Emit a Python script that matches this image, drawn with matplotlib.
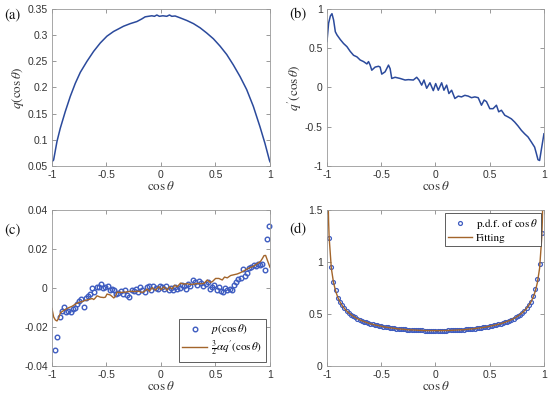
import matplotlib
matplotlib.use('Agg')
import matplotlib.pyplot as plt
from matplotlib.ticker import FuncFormatter
import numpy as np

plt.rcParams['font.family'] = ['Liberation Sans', 'DejaVu Sans']
plt.rcParams['mathtext.fontset'] = 'stix'
plt.rcParams['axes.unicode_minus'] = False

# (a) q(cos theta)
qa_x = [-1.0, -0.985, -0.954, -0.924, -0.878, -0.832, -0.786, -0.74, -0.679, -0.618, -0.557,
        -0.496, -0.435, -0.389, -0.344, -0.282, -0.221, -0.176, -0.145, -0.115, -0.084, -0.06,
        -0.038, -0.015, 0.017, 0.035, 0.053, 0.078, 0.099, 0.13, 0.176, 0.237, 0.298, 0.359,
        0.42, 0.481, 0.542, 0.603, 0.664, 0.725, 0.786, 0.847, 0.908, 0.954, 0.994, 1.0]
qa_y = [0.058, 0.0615, 0.097, 0.122, 0.154, 0.183, 0.208, 0.229, 0.250, 0.269, 0.285,
        0.298, 0.307, 0.312, 0.317, 0.322, 0.326, 0.331, 0.335, 0.336, 0.337, 0.336,
        0.3385, 0.336, 0.337, 0.3365, 0.336, 0.3385, 0.336, 0.3366, 0.333, 0.328, 0.322, 0.314,
        0.304, 0.293, 0.279, 0.263, 0.243, 0.221, 0.196, 0.164, 0.125, 0.093, 0.0615, 0.058]

# (b) q'(cos theta)
qb_x = [-1.0, -0.985, -0.969, -0.954, -0.939, -0.923, -0.908, -0.877, -0.847, -0.816, -0.786,
        -0.755, -0.724, -0.694, -0.663, -0.632, -0.617, -0.602, -0.587, -0.556, -0.525, -0.51,
        -0.495, -0.464, -0.433, -0.418, -0.403, -0.372, -0.326, -0.28, -0.25, -0.204, -0.173,
        -0.152, -0.127, -0.106, -0.081, -0.051, -0.02, 0.002, 0.026, 0.057, 0.078, 0.103,
        0.124, 0.149, 0.179, 0.21, 0.24, 0.271, 0.302, 0.332, 0.363, 0.394, 0.424, 0.449,
        0.47, 0.501, 0.531, 0.562, 0.583, 0.608, 0.639, 0.669, 0.7, 0.73, 0.761, 0.792,
        0.822, 0.853, 0.884, 0.914, 0.93, 0.945, 0.96, 0.975, 1.0]
qb_y = [0.586, 0.82, 0.91, 0.94, 0.86, 0.71, 0.67, 0.61, 0.56, 0.52, 0.46,
        0.41, 0.39, 0.35, 0.33, 0.30, 0.33, 0.285, 0.22, 0.26, 0.27, 0.26,
        0.17, 0.20, 0.285, 0.24, 0.115, 0.13, 0.115, 0.095, 0.10, 0.095, 0.13,
        0.095, 0.03, 0.095, -0.01, 0.06, -0.04, 0.05, -0.035, 0.06, -0.035, 0.03,
        -0.077, -0.035, -0.14, -0.11, -0.12, -0.10, -0.11, -0.13, -0.12, -0.13, -0.226, -0.16,
        -0.18, -0.27, -0.27, -0.226, -0.31, -0.29, -0.354, -0.375, -0.40, -0.44, -0.49, -0.546,
        -0.59, -0.63, -0.695, -0.76, -0.84, -0.92, -0.93, -0.80, -0.59]

# (c) p(cos theta) circles and (3/2) alpha q' line
pc_x = np.linspace(-0.97, 0.99, 99)
pc_y = [-0.032, -0.025, -0.015, -0.012, -0.0095, -0.0125, -0.012, -0.0125, -0.011, -0.0105,
        -0.008, -0.0065, -0.0055, -0.0098, -0.005, -0.004, -0.003, 0.0, -0.002, 0.0005,
        0.0004, 0.0018, 0.0, 0.0005, 0.0012, -0.0012, -0.0004, -0.0008, -0.003, -0.0025,
        -0.0015, -0.003, -0.001, -0.0035, -0.0045, -0.0008, -0.0015, -0.0005, -0.002, 0.0005,
        -0.001, -0.002, 0.0005, 0.001, -0.001, 0.0012, 0.0, -0.0005, 0.001, 0.0005,
        -0.0005, 0.0012, -0.0008, 0.0, -0.001, 0.0005, -0.0005, 0.0, 0.0015, 0.001,
        -0.0005, 0.002, 0.001, 0.004, 0.003, 0.0015, 0.0035, 0.0025, 0.001, 0.002,
        0.003, -0.0005, 0.0005, 0.0015, -0.001, 0.0005, -0.0015, -0.002, 0.0, -0.001,
        -0.0005, -0.001, 0.0015, 0.003, 0.0045, 0.005, 0.0095, 0.006, 0.0075, 0.010,
        0.011, 0.012, 0.0115, 0.0125, 0.012, 0.0125, 0.009, 0.025, 0.032]
lc_y = [-0.0105, -0.0148, -0.0164, -0.0169, -0.0155, -0.0128, -0.0121, -0.0110, -0.0101, -0.0094,
        -0.0083, -0.0074, -0.0070, -0.0063, -0.0059, -0.0054, -0.0059, -0.0051, -0.0040, -0.0047,
        -0.0049, -0.0047, -0.0031, -0.0036, -0.0051, -0.0043, -0.0021, -0.0023, -0.0021, -0.0017,
        -0.0018, -0.0017, -0.0023, -0.0017, -0.0005, -0.0017, 0.0002, -0.0011, 0.0007, -0.0009,
        0.0006, -0.0011, 0.0006, -0.0005, 0.0014, 0.0006, 0.0025, 0.0020, 0.0022, 0.0018,
        0.0020, 0.0023, 0.0022, 0.0023, 0.0041, 0.0029, 0.0032, 0.0049, 0.0049, 0.0041,
        0.0056, 0.0052, 0.0064, 0.0068, 0.0072, 0.0079, 0.0088, 0.0098, 0.0106, 0.0113,
        0.0125, 0.0137, 0.0151, 0.0166, 0.0167, 0.0144, 0.0106]

# (d) p.d.f. of cos theta and fitting
pd_x = np.linspace(-0.98, 0.98, 99)
pd_y = [1.228, 0.956, 0.812, 0.726, 0.655, 0.616, 0.582, 0.554, 0.531, 0.512,
        0.495, 0.480, 0.467, 0.455, 0.445, 0.436, 0.427, 0.420, 0.413, 0.406,
        0.401, 0.395, 0.390, 0.386, 0.382, 0.378, 0.374, 0.371, 0.367, 0.365,
        0.362, 0.359, 0.357, 0.355, 0.353, 0.351, 0.350, 0.348, 0.347, 0.346,
        0.345, 0.344, 0.343, 0.342, 0.341, 0.341, 0.341, 0.340, 0.340, 0.340,
        0.340, 0.340, 0.341, 0.341, 0.341, 0.342, 0.343, 0.344, 0.345, 0.346,
        0.347, 0.348, 0.350, 0.351, 0.353, 0.355, 0.357, 0.359, 0.362, 0.365,
        0.367, 0.371, 0.374, 0.378, 0.382, 0.386, 0.390, 0.395, 0.401, 0.406,
        0.413, 0.420, 0.427, 0.436, 0.445, 0.455, 0.467, 0.480, 0.495, 0.512,
        0.531, 0.554, 0.582, 0.616, 0.670, 0.740, 0.835, 0.985, 1.276]
fit_x = [-0.995, -0.99, -0.985, -0.98, -0.96, -0.94, -0.92, -0.90, -0.88, -0.86, -0.84, -0.82,
         -0.80, -0.76, -0.72, -0.68, -0.64, -0.60, -0.55, -0.50, -0.45, -0.40, -0.35, -0.30,
         -0.25, -0.20, -0.15, -0.10, -0.05, 0.0, 0.05, 0.10, 0.15, 0.20, 0.25, 0.30, 0.35,
         0.40, 0.45, 0.50, 0.55, 0.60, 0.64, 0.68, 0.72, 0.76, 0.80, 0.82, 0.84, 0.86, 0.88,
         0.90, 0.92, 0.94, 0.96, 0.98, 0.985, 0.99, 0.995]
fit_y = [2.15, 1.63, 1.387, 1.238, 0.941, 0.804, 0.719, 0.660, 0.616, 0.582, 0.554, 0.531,
         0.512, 0.480, 0.455, 0.436, 0.420, 0.406, 0.393, 0.382, 0.372, 0.365, 0.358, 0.353,
         0.348, 0.346, 0.343, 0.341, 0.340, 0.340, 0.340, 0.341, 0.343, 0.346, 0.348, 0.353, 0.358,
         0.365, 0.372, 0.382, 0.393, 0.406, 0.420, 0.436, 0.455, 0.480, 0.512, 0.531, 0.554, 0.582, 0.616,
         0.660, 0.719, 0.804, 0.941, 1.238, 1.387, 1.63, 2.15]

xticks = [-1, -0.5, 0, 0.5, 1]

line_blue = '#2B4A9C'
circ_blue = '#3E5CC0'
brown = '#A3652B'
serif = ['STIXGeneral', 'Liberation Serif']


def fmt(v, pos):
    if abs(v) < 1e-12:
        v = 0
    return f'{v:g}'


def style(ax, yticks, ylim, ylabel):
    ax.set_xlim(-1, 1)
    ax.set_ylim(*ylim)
    ax.set_xticks(xticks)
    ax.set_yticks(yticks)
    ax.xaxis.set_major_formatter(FuncFormatter(fmt))
    ax.yaxis.set_major_formatter(FuncFormatter(fmt))
    ax.tick_params(direction='in', top=True, right=True, length=3, width=0.6,
                   color='#888888', labelsize=7.5, labelcolor='#333333', pad=3)
    for s in ax.spines.values():
        s.set_color('#999999')
        s.set_linewidth(0.6)
    ax.set_xlabel(r'$\cos\theta$', fontsize=9.5, labelpad=0, color='#333333')
    ax.set_ylabel(ylabel, fontsize=9.5, labelpad=1, color='#333333')


fig = plt.figure(figsize=(5.5, 3.99), dpi=100)
ax_a = fig.add_axes([0.0945, 0.584, 0.3964, 0.3935])
ax_b = fig.add_axes([0.5945, 0.584, 0.3945, 0.3935])
ax_c = fig.add_axes([0.0945, 0.0827, 0.3964, 0.391])
ax_d = fig.add_axes([0.5945, 0.0827, 0.3945, 0.391])

ax_a.plot(qa_x, qa_y, color=line_blue, lw=1.1)
style(ax_a, [0.05, 0.1, 0.15, 0.2, 0.25, 0.3, 0.35], (0.05, 0.35), r'$q(\cos\theta)$')

ax_b.plot(qb_x, qb_y, color=line_blue, lw=1.1)
style(ax_b, [-1, -0.5, 0, 0.5, 1], (-1, 1), r"$q'(\cos\theta)$")

ax_c.plot(pc_x, pc_y, 'o', ms=3.3, mfc='none', mec=circ_blue, mew=1.0,
          label=r'$p(\cos\theta)$', clip_on=False)
ax_c.plot(qb_x, lc_y, color=brown, lw=1.0, label=r"$\frac{3}{2}\alpha q'(\cos\theta)$")
style(ax_c, [-0.04, -0.02, 0, 0.02, 0.04], (-0.04, 0.04), '')
ax_c.legend(loc='lower right', fontsize=8, frameon=True, fancybox=False, framealpha=1,
            edgecolor='#444444', borderpad=0.3, handlelength=2.2, handletextpad=0.4,
            labelspacing=0.2, borderaxespad=0.4).get_frame().set_linewidth(0.6)

ax_d.plot(pd_x, pd_y, 'o', ms=2.8, mfc='none', mec=circ_blue, mew=0.9,
          label=r'p.d.f. of $\cos\theta$')
ax_d.plot(fit_x, fit_y, color=brown, lw=1.0, label='Fitting')
style(ax_d, [0, 0.5, 1, 1.5], (0, 1.5), '')
leg = ax_d.legend(loc='upper right', fontsize=8, frameon=True, fancybox=False, framealpha=1,
                  edgecolor='#444444', borderpad=0.3, handlelength=2.2, handletextpad=0.3,
                  labelspacing=0.2, borderaxespad=0.3, prop={'family': serif, 'size': 8})
leg.get_frame().set_linewidth(0.6)

for lab, x, y in [('(a)', 0.008, 0.955), ('(b)', 0.525, 0.955),
                  ('(c)', 0.008, 0.415), ('(d)', 0.525, 0.415)]:
    fig.text(x, y, lab, fontsize=10.5, family=serif, color='#111111')

fig.savefig('out.png', dpi=100)
